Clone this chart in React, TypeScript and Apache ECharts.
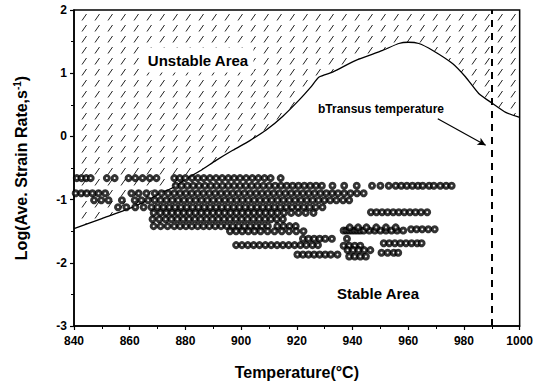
import React, { useEffect, useRef } from "react";
import * as echarts from "echarts";

// Boundary between unstable (hatched, above) and stable regions
const boundary: [number, number][] = [
  [840, -1.46], [850, -1.3], [860, -1.14], [865, -1.04], [871, -0.9], [876, -0.8],
  [880, -0.68], [885.5, -0.54], [891, -0.38], [897, -0.22], [903, -0.07], [909, 0.1],
  [915, 0.32], [920.7, 0.57], [925, 0.78], [928, 0.94], [933, 1.02], [941, 1.2],
  [950.8, 1.36], [956.6, 1.47], [960, 1.49], [963.8, 1.47], [968.8, 1.36], [976, 1.15],
  [980.6, 0.94], [985.3, 0.68], [990.3, 0.52], [995, 0.38], [1000, 0.3],
];

const betaTransus = 990;

// Scatter rows of measured points: [log strain rate, temperatures]
const rowA = [841, 842.7, 844.4, 846, 851.8, 854.6, 859.6, 862, 864.6, 867.2, 869.6, 876, 878, 880, 882.4, 884.5, 886.6, 888.8, 891, 893.2, 895.4, 897.5, 899.6, 901.8, 904, 906.2, 908.4, 910.6, 914.2];
const rowB = [876.5, 878.6, 880.7, 882.8, 884.9, 887, 889.1, 891.2, 893.3, 895.4, 897.5, 899.6, 901.7, 903.8, 905.9, 908, 910.1, 912.2, 914.3, 916.4, 918.5, 920.6, 922.7, 924.8, 926.9, 929, 932.8, 937, 941.5, 947, 950, 953, 955.5, 957.5, 959.5, 961.5, 963.5, 965.2, 967.5, 969.2, 971.5, 973.6, 975.6];
const rowC = [840.6, 842.6, 844.6, 846.6, 848.8, 851.2, 860.6, 863.2, 866, 869, 871.4, 873.8, 876, 878.1, 880.2, 882.3, 884.4, 886.5, 888.6, 890.7, 892.8, 894.9, 897, 899.1, 901.2, 903.3, 905.4, 907.5, 909.6, 911.7, 913.8, 915.9, 918, 920.1, 922.2, 924.3, 926.4, 928.5, 930.6, 932.7, 934.8, 937, 939.3, 941.6, 944];
const rowD = [847.2, 849.8, 852.4, 857.2, 861.8, 864.2, 866.6, 869, 871.1, 873.2, 875.3, 877.4, 879.5, 881.6, 883.7, 885.8, 887.9, 890, 892.1, 894.2, 896.3, 898.4, 900.5, 902.6, 904.7, 906.8, 908.9, 911, 913.1, 915.2, 917.3, 919.4, 921.5, 923.6, 925.7, 927.8, 929.9, 932, 934.2, 936.6, 938.8];
const rowE = [855.8, 858.8, 862, 865, 867.8, 870, 872.1, 874.2, 876.3, 878.4, 880.5, 882.6, 884.7, 886.8, 888.9, 891, 893.1, 895.2, 897.3, 899.4, 901.5, 903.6, 905.7, 907.8, 909.9, 912, 914.1, 916.2, 918.3, 920.4, 922.5, 924.6, 926.8, 929.2];
const rowF = [868.6, 871, 873.1, 875.2, 877.3, 879.4, 881.5, 883.6, 885.7, 887.8, 889.9, 892, 894.1, 896.2, 898.3, 900.4, 902.5, 904.6, 906.7, 908.8, 910.9, 913, 915.4, 918, 920.6, 923.2, 926];
const rowF2 = [946.6, 948.6, 950.6, 952.6, 954.6, 956.6, 958.6, 960.6, 962.6, 964.6, 966.8];
const rowG = [868.2, 870.6, 872.9, 875, 877.1, 879.2, 881.3, 883.4, 885.5, 887.6, 889.7, 891.8, 893.9, 896, 898.1, 900.2, 902.3, 904.4, 906.5, 908.6, 910.7, 912.8, 915];
const rowH = [868.6, 871.1, 873.6, 876, 878.1, 880.2, 882.3, 884.4, 886.5, 888.6, 890.7, 892.8, 894.9, 897, 899.1, 901.2, 903.3, 905.4, 907.5, 909.6, 913, 915.2, 917.4, 919.6];
const rowH2 = [896, 898.2, 900.4, 902.6, 904.8, 907, 909.5, 912, 914.6, 917.2, 919.8, 922.4];
const rowI = [936.8, 937.8, 938.8, 939.8, 940.8, 941.8, 942.8, 944, 946, 948, 950, 952, 954, 956, 958.2];
const rowI2 = [939, 942, 945, 948.5, 952, 955.5];
const rowI3 = [961, 963, 965, 967.2, 969.5];
const rowJ = [922.2, 924.2, 926.2, 928.2, 930.2, 932.6, 938];
const rowK = [898.2, 900.3, 902.4, 904.5, 906.6, 908.7, 910.8, 912.9, 915, 917.1, 919.2, 921.3, 923.4, 925.6, 927.6];
const rowK2 = [951.2, 953.2, 955.2, 957.2, 959.2, 961.2, 963.2, 964.8];
const rowK3 = [936.8, 938.8, 940.8, 942.8];
const rowL = [920.2, 922.2, 924.2, 926.2, 928.2, 930.2, 932.2, 934.6];
const rowL2 = [938.2, 940.2, 942.2, 944.2, 946.4];
const rowL3 = [938.8, 940.8, 942.8, 944.8];
const rowL4 = [950.4, 952.6, 954.8, 956.4];

const rows: [number, number[]][] = [
  [-0.66, rowA], [-0.78, rowB], [-0.9, rowC], [-1.01, rowD], [-1.12, rowE],
  [-1.21, rowF], [-1.2, rowF2], [-1.31, rowG], [-1.42, rowH], [-1.5, rowH2],
  [-1.49, rowI], [-1.44, rowI2], [-1.47, rowI3], [-1.62, rowJ], [-1.72, rowK],
  [-1.69, rowK2], [-1.73, rowK3], [-1.87, rowL], [-1.8, rowL2], [-1.9, rowL3], [-1.84, rowL4],
];

const FONT = "'Liberation Sans', Arial, sans-serif";

export default function App() {
  const ref = useRef<HTMLDivElement>(null);
  useEffect(() => {
    document.body.style.margin = "0";
    if (!ref.current) return;
    const chart = echarts.init(ref.current, undefined, { renderer: "svg" });

    const canvas = document.createElement("canvas");
    canvas.width = 13;
    canvas.height = 11;
    const ctx = canvas.getContext("2d");
    if (ctx) {
      ctx.strokeStyle = "#222";
      ctx.lineWidth = 1;
      ctx.beginPath();
      ctx.moveTo(4, 9.5);
      ctx.lineTo(8.5, 3);
      ctx.stroke();
    }

    const points = rows.flatMap(([y, xs]) => xs.map((x) => [x, y]));

    chart.setOption({
      animation: false,
      backgroundColor: "#fff",
      textStyle: { fontFamily: FONT },
      grid: { left: 74, right: 16, top: 10, bottom: 60, show: true, borderColor: "#000", borderWidth: 1.5 },
      xAxis: {
        type: "value",
        min: 840,
        max: 1000,
        interval: 20,
        name: "Temperature(°C)",
        nameLocation: "middle",
        nameGap: 38,
        nameTextStyle: { fontSize: 16, fontWeight: "bold", color: "#000", fontFamily: FONT },
        axisLine: { onZero: false, lineStyle: { color: "#000", width: 1.5 } },
        axisTick: { length: 4, lineStyle: { color: "#000", width: 1.2 } },
        minorTick: { show: true, splitNumber: 2, length: 3, lineStyle: { color: "#000" } },
        splitLine: { show: false },
        axisLabel: { fontSize: 12, fontWeight: "bold", color: "#000", margin: 9, fontFamily: FONT, formatter: (v: number) => String(v) },
      },
      yAxis: {
        type: "value",
        min: -3,
        max: 2,
        interval: 1,
        name: "{a|Log(Ave. Strain Rate,s}{b|-1}{a|)}",
        nameLocation: "middle",
        nameGap: 44,
        nameTextStyle: {
          rich: {
            a: { fontSize: 16, fontWeight: "bold", color: "#000", fontFamily: FONT, lineHeight: 18 },
            b: { fontSize: 10, fontWeight: "bold", color: "#000", fontFamily: FONT, verticalAlign: "top", lineHeight: 18 },
          },
        },
        axisLine: { onZero: false, lineStyle: { color: "#000", width: 1.5 } },
        axisTick: { length: 4, lineStyle: { color: "#000", width: 1.2 } },
        minorTick: { show: true, splitNumber: 2, length: 3, lineStyle: { color: "#000" } },
        splitLine: { show: false },
        axisLabel: { fontSize: 12, fontWeight: "bold", color: "#000", margin: 7, fontFamily: FONT },
      },
      series: [
        {
          type: "line",
          data: boundary,
          smooth: 0.2,
          showSymbol: false,
          symbol: "none",
          lineStyle: { color: "#000", width: 1.3 },
          areaStyle: { origin: "end", color: { image: canvas, repeat: "repeat" }, opacity: 1 },
          z: 2,
          markLine: {
            silent: true,
            symbol: "none",
            label: { show: false },
            lineStyle: { color: "#000", width: 2, type: [7, 6] },
            data: [{ xAxis: betaTransus }],
          },
        },
        {
          type: "line",
          data: [],
          markLine: {
            silent: true,
            label: { show: false },
            symbolSize: [6, 8],
            lineStyle: { color: "#000", width: 1.2, type: "solid" },
            data: [[
              { coord: [970.6, 0.28], symbol: "none" },
              { coord: [987.8, -0.14], symbol: "arrow" },
            ]],
          },
        },
        {
          type: "scatter",
          data: points,
          symbol: "circle",
          symbolSize: 5,
          itemStyle: { color: "#fff", borderColor: "#000", borderWidth: 3 },
          z: 3,
        },
      ],
      graphic: [
        {
          type: "text",
          x: 198,
          y: 60,
          style: {
            text: "Unstable Area", fontSize: 15, fontWeight: "bold", fill: "#000", align: "center", verticalAlign: "middle",
            fontFamily: FONT, backgroundColor: "#fff", padding: [5, 5],
          },
          z: 10,
        },
        {
          type: "text",
          x: 378,
          y: 293,
          style: { text: "Stable Area", fontSize: 15, fontWeight: "bold", fill: "#000", align: "center", verticalAlign: "middle", fontFamily: FONT },
          z: 10,
        },
        {
          type: "text",
          x: 318,
          y: 109,
          style: { text: "bTransus temperature", fontSize: 12, fontWeight: "bold", fill: "#000", align: "left", verticalAlign: "middle", fontFamily: FONT },
          z: 10,
        },
      ],
    });
    return () => chart.dispose();
  }, []);
  return <div ref={ref} style={{ width: 536, height: 386 }} />;
}
